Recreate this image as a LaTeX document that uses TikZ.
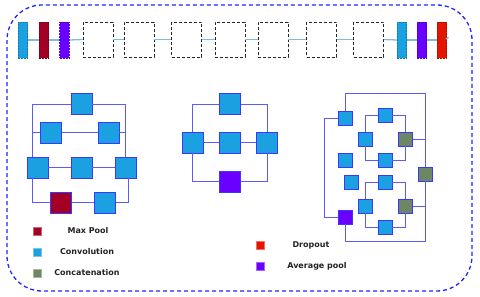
\documentclass[tikz,border=0pt]{standalone}
\usepackage{fontspec}
\setmainfont{DejaVu Sans}
\usetikzlibrary{arrows.meta}
\definecolor{cyanc}{HTML}{1BA1E2}
\definecolor{bordc}{HTML}{3838FF}
\definecolor{maxp}{HTML}{A20025}
\definecolor{purp}{HTML}{6A00FF}
\definecolor{concat}{HTML}{6D8764}
\definecolor{drop}{HTML}{E51400}
\definecolor{wirec}{HTML}{5A5AFF}
\definecolor{topl}{HTML}{7FBDE0}
\definecolor{outerc}{HTML}{2424FF}
\definecolor{txtc}{HTML}{222222}
\begin{document}
\begin{tikzpicture}[x=1pt,y=-1pt,
  blk/.style={draw=bordc,line width=0.8pt,inner sep=0pt,minimum size=21pt},
  sblk/.style={blk,minimum size=14pt},
  cv/.style={fill=cyanc},
  mp/.style={fill=maxp},
  ap/.style={fill=purp},
  cc/.style={fill=concat},
  wire/.style={draw=wirec,line width=0.9pt},
  topline/.style={draw=topl,line width=1.3pt},
  bar/.style={inner sep=0pt,minimum width=9.5pt,minimum height=36pt,fill=#1,draw=#1!75!black,dash pattern=on 2pt off 1pt,line width=0.6pt},
  dbox/.style={draw=black!85,dash pattern=on 3pt off 2pt,line width=0.8pt,minimum width=30pt,minimum height=35pt,inner sep=0pt},
  leg/.style={inner sep=0pt,minimum size=8pt,fill=#1,draw=#1!60!white,line width=0.4pt},
  legt/.style={font=\bfseries\fontsize{8}{9.5}\selectfont,text=txtc,inner sep=0pt}
]
\useasboundingbox (0,0) rectangle (480,297);
\draw[outerc,line width=1.3pt,dash pattern=on 4pt off 3pt,rounded corners=35pt] (7,5) rectangle (472,291);

% top row
\node[bar=cyanc] (b1) at (23,40) {};
\node[bar=maxp] (b2) at (44,40) {};
\node[bar=purp] (b3) at (64.5,40) {};
\node[dbox] (d1) at (98,39.5) {};
\node[dbox] (d2) at (139,39.5) {};
\node[dbox] (d3) at (186.5,39.5) {};
\node[dbox] (d4) at (230,39.5) {};
\node[dbox] (d5) at (273,39.5) {};
\node[dbox] (d6) at (321.5,39.5) {};
\node[dbox] (d7) at (368.5,39.5) {};
\node[bar=cyanc] (b8) at (402,40) {};
\node[bar=purp] (b9) at (422,40) {};
\node[bar=drop] (b10) at (442,40) {};
\foreach \a/\b in {b1/b2,b2/b3,b3/d1,d1/d2,d2/d3,d3/d4,d4/d5,d5/d6,d6/d7,d7/b8,b8/b9,b9/b10}
  \draw[topline] (\a.east) -- (\b.west);
\draw[topline,-{Stealth[length=2.5pt,width=2.5pt]}] ([xshift=-1pt,yshift=1pt]b10.east) -- ([xshift=2pt,yshift=3pt]b10.east);

% left module
\coordinate (lx) at (33,0);
\node[blk,cv] (L1) at (81.5,104) {};
\node[blk,cv] (L2a) at (51,132.5) {};
\node[blk,cv] (L2b) at (108.5,132.5) {};
\node[blk,cv] (L3a) at (37.5,167.5) {};
\node[blk,cv] (L3b) at (81.5,167.5) {};
\node[blk,cv] (L3c) at (125.5,167.5) {};
\node[blk,mp] (L4a) at (61,202.5) {};
\node[blk,cv] (L4b) at (105,202.5) {};
\draw[wire] (L1.west) -| ([xshift=5.5pt]L3a.north west);
\draw[wire] (L1.east) -| (L3c.north);
\draw[wire] (L2a.west) -- (L2a.west -| lx);
\draw[wire] (L2a.east) -- (L2b.west);
\draw[wire] (L2b.east) -- (L2b.east -| L3c.north);
\draw[wire] (L3a.east) -- (L3b.west);
\draw[wire] (L3b.east) -- (L3c.west);
\draw[wire] ([xshift=5.5pt]L3a.south west) |- (L4a.west);
\draw[wire] (L4a.east) -- (L4b.west);
\draw[wire] (L4b.east) -| ([xshift=2.5pt]L3c.south);

% middle module
\node[blk,cv] (M1) at (230,104) {};
\node[blk,cv] (M2a) at (192.5,142.5) {};
\node[blk,cv] (M2b) at (230,142.5) {};
\node[blk,cv] (M2c) at (267,142.5) {};
\node[blk,ap] (M3) at (230,181.5) {};
\draw[wire] (M1.west) -| (M2a.north);
\draw[wire] (M1.east) -| (M2c.north);
\draw[wire] (M2a.east) -- (M2b.west);
\draw[wire] (M2b.east) -- (M2c.west);
\draw[wire] (M2a.south) |- (M3.west);
\draw[wire] (M3.east) -| (M2c.south);

% right module
\coordinate (rtop) at (0,93);
\coordinate (rbot) at (0,241);
\coordinate (rlx) at (324,0);
\node[sblk,cv] (A) at (345,118) {};
\node[sblk,cv] (B) at (385,115) {};
\node[sblk,cv] (C) at (365,139) {};
\node[sblk,cc] (D) at (405.5,139) {};
\node[sblk,cv] (E) at (385,160) {};
\node[sblk,cv] (F) at (345,160) {};
\node[sblk,cv] (G) at (351,182) {};
\node[sblk,cv] (H) at (385,182) {};
\node[sblk,cc] (I) at (425.5,174) {};
\node[sblk,cv] (J) at (365,206) {};
\node[sblk,cc] (K) at (405.5,206) {};
\node[sblk,ap] (P) at (345,217) {};
\node[sblk,cv] (M) at (385,227) {};
\draw[wire] (A.north) -- (A.north |- rtop) -| (I.north);
\draw[wire] (I.south) -- (I.south |- rbot) -| (P.south);
\draw[wire] (A.west) -- (A.west -| rlx) |- (P.west);
\draw[wire] (B.west) -| (C.north);
\draw[wire] (B.east) -| (D.north);
\draw[wire] (C.south) |- (E.west);
\draw[wire] (E.east) -| (D.south);
\draw[wire] (D.east) -- (D.east -| I.north);
\draw[wire] (H.west) -| (J.north);
\draw[wire] (H.east) -| (K.north);
\draw[wire] (J.south) |- (M.west);
\draw[wire] (M.east) -| (K.south);
\draw[wire] (K.east) -- (K.east -| I.south);

% legend
\node[leg=maxp] (g1) at (37,231) {};
\node[legt] (t1) at (88,231) {Max Pool};
\node[leg=cyanc] (g2) at (37,252) {};
\node[legt] (t2) at (87,252) {Convolution};
\node[leg=concat] (g3) at (37,273) {};
\node[legt] (t3) at (87,273) {Concatenation};
\node[leg=drop] (g4) at (260.5,245) {};
\node[legt] (t4) at (311,245) {Dropout};
\node[leg=purp] (g5) at (260.5,266.5) {};
\node[legt] (t5) at (317,266) {Average pool};
\end{tikzpicture}
\end{document}
